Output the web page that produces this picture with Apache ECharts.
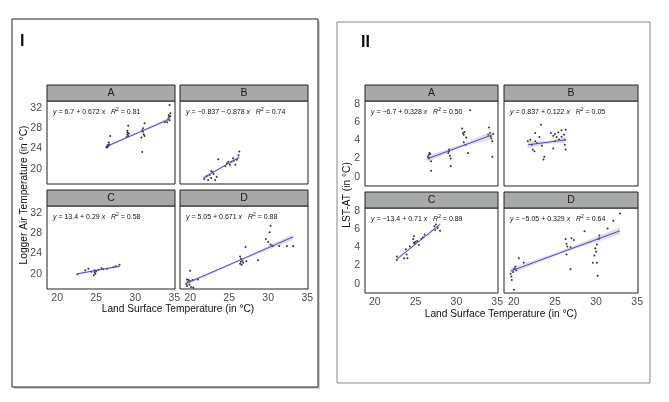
<!DOCTYPE html>
<html>
<head>
<meta charset="utf-8">
<script src="https://cdn.jsdelivr.net/npm/echarts@6/dist/echarts.min.js"></script>
<style>
  html, body { margin: 0; padding: 0; background: #fff; }
  #chart { width: 669px; height: 402px; }
</style>
</head>
<body>
<div id="chart"></div>
<script>
// facet names and tick values
const facetNames = ['A', 'B', 'C', 'D']
const xTicks = [20, 25, 30, 35]
const xMinor = [22.5, 27.5, 32.5]
const yTicksI = [20, 24, 28, 32]
const yMinorI = [18, 22, 26, 30]
const yTicksII = [0, 2, 4, 6, 8]
const yMinorII = [1, 3, 5, 7]

// equation labels [intercept part, slope part, R2]
const eqI = [
  ['6.7 + 0.672', '0.81'],
  ['\u22120.837 \u2212 0.878', '0.74'],
  ['13.4 + 0.29', '0.58'],
  ['5.05 + 0.671', '0.88']
]
const eqII = [
  ['\u22126.7 + 0.328', '0.50'],
  ['0.837 + 0.122', '0.05'],
  ['\u221213.4 + 0.71', '0.89'],
  ['\u22125.05 + 0.329', '0.64']
]

// panel I : Logger Air Temperature vs LST
const ptsIA = [[26.3, 24.3], [26.4, 24.5], [26.5, 24.4], [26.6, 24.6], [26.4, 24.2], [26.5, 24.7], [26.7, 24.8], [26.8, 26.5], [26.6, 25.2],
  [29.0, 26.8], [29.0, 27.2], [29.1, 26.5], [29.2, 27.0], [28.9, 26.3], [29.1, 28.5], [29.0, 27.5],
  [30.9, 27.6], [31.0, 28.0], [31.1, 26.8], [30.8, 26.2], [31.2, 29.0], [30.9, 23.3], [31.0, 27.3], [31.2, 26.5],
  [34.2, 29.8], [34.3, 30.2], [34.4, 29.6], [34.5, 30.4], [34.1, 29.2], [34.4, 32.6], [34.5, 31.0], [34.3, 30.6], [33.8, 29.2]]
const ptsIB = [[21.8, 18.0], [22.1, 18.5], [22.3, 17.8], [22.5, 18.8], [22.7, 18.2], [22.7, 19.5], [23.0, 19.0], [23.2, 17.8], [23.4, 18.4],
  [23.6, 21.9], [24.5, 20.5], [24.7, 21.1], [24.9, 21.4], [25.1, 20.8], [25.3, 21.4], [25.5, 22.1], [25.8, 20.8], [26.0, 21.8],
  [26.2, 22.7], [26.3, 23.4], [22.9, 19.3], [25.6, 21.6]]
const ptsIC = [[22.6, 19.9], [23.6, 20.7], [24.0, 21.0], [24.4, 20.4], [24.8, 20.7], [24.7, 19.7], [24.9, 20.0], [25.3, 20.8],
  [25.7, 21.1], [25.9, 20.9], [26.4, 21.0], [27.2, 21.3], [27.5, 21.5], [28.0, 21.8], [24.8, 20.3], [25.0, 20.5]]
const ptsID = [[19.5, 18.0], [19.6, 17.6], [19.7, 18.4], [19.8, 18.8], [19.9, 17.9], [20.0, 18.6], [20.1, 17.4], [20.3, 18.8], [19.6, 18.9],
  [20.0, 20.6], [21.0, 18.9], [20.4, 17.3],
  [26.4, 22.0], [26.5, 22.4], [26.6, 21.8], [26.5, 23.0], [26.7, 22.6], [26.4, 23.4], [26.8, 22.2], [27.1, 25.3], [27.2, 22.5], [28.7, 22.7],
  [30.3, 29.5], [30.2, 28.2], [29.7, 26.9], [30.0, 26.3], [30.5, 25.6], [31.4, 25.5], [32.4, 25.5], [33.2, 25.5], [30.3, 25.8], [30.6, 25.5]]

// panel II : LST - AT vs LST
const ptsIIA = [[26.5, 2.2], [26.6, 2.4], [26.7, 2.1], [26.8, 2.5], [26.6, 2.0], [26.7, 2.6], [26.9, 1.7], [26.9, 0.66],
  [29.0, 2.6], [29.1, 3.0], [29.2, 2.3], [29.3, 2.0], [29.1, 2.8], [29.3, 1.2],
  [30.7, 5.3], [30.8, 4.8], [30.9, 4.6], [31.0, 4.9], [30.9, 3.8], [31.1, 3.5], [31.2, 4.3], [31.4, 2.6], [31.7, 7.3],
  [33.9, 4.6], [34.0, 5.4], [34.1, 4.8], [34.2, 4.4], [34.3, 4.2], [34.4, 3.9], [34.4, 2.2], [34.5, 4.7]]
const ptsIIB = [[21.7, 3.9], [22.0, 4.05], [22.2, 3.5], [22.3, 3.0], [22.5, 2.8], [22.6, 4.8], [22.6, 3.9], [22.8, 3.7], [23.1, 4.35],
  [23.3, 5.7], [23.4, 3.4], [23.6, 1.9], [23.7, 2.2], [24.5, 4.8], [24.8, 4.5], [25.0, 4.7], [25.0, 3.9], [24.8, 3.1], [25.2, 4.35],
  [25.4, 4.85], [25.5, 4.1], [25.8, 5.1], [25.8, 4.4], [26.1, 4.6], [26.2, 4.05], [26.3, 5.15], [26.2, 3.5], [26.3, 3.0]]
const ptsIIC = [[22.7, 2.6], [22.7, 3.0], [23.6, 2.8], [23.9, 3.2], [24.0, 2.8], [23.8, 3.8], [24.3, 4.1], [24.7, 4.9], [24.8, 5.2],
  [24.8, 4.5], [25.0, 4.6], [25.2, 4.7], [25.4, 4.25], [25.7, 4.9], [25.9, 5.1], [26.1, 5.4], [27.3, 6.3], [27.5, 6.5],
  [27.7, 6.1], [28.0, 5.8], [27.4, 5.9], [24.9, 4.4]]
const ptsIID = [[19.6, 1.1], [19.7, 0.8], [19.75, 0.43], [20.0, -0.65], [20.0, 1.6], [20.2, 1.9], [20.6, 2.8], [21.2, 2.3], [20.3, 1.5],
  [19.9, 1.3], [20.1, 1.7],
  [26.3, 4.9], [26.4, 4.4], [26.5, 4.1], [26.4, 3.2], [27.0, 5.0], [27.3, 4.8], [26.9, 1.6], [26.9, 4.0], [28.6, 5.75],
  [29.8, 3.1], [30.0, 3.5], [29.9, 3.9], [30.1, 4.3], [30.3, 4.9], [30.4, 5.3], [29.6, 2.3], [30.1, 2.3], [30.2, 0.9],
  [31.4, 6.05], [32.1, 6.9], [32.9, 7.7], [30.4, 5.0]]

// fitted lines (endpoints)
const fitIA = [[26.3, 24.4], [34.5, 29.9]]
const fitIB = [[21.7, 18.2], [26.3, 22.3]]
const fitIC = [[22.6, 20.0], [28.0, 21.5]]
const fitID = [[19.5, 18.1], [33.2, 27.3]]
const fitIIA = [[26.5, 2.0], [34.4, 4.6]]
const fitIIB = [[21.7, 3.5], [26.3, 4.05]]
const fitIIC = [[22.7, 2.7], [28.0, 6.5]]
const fitIID = [[19.6, 1.4], [32.9, 5.8]]

// confidence bands [x, low, high]
const bandIA = [[26.3, 24.1, 24.7], [30.4, 27.0, 27.3], [34.5, 29.5, 30.3]]
const bandIB = [[21.7, 17.8, 18.6], [24.0, 20.1, 20.4], [26.3, 21.9, 22.7]]
const bandIC = [[22.6, 19.8, 20.2], [25.3, 20.7, 20.9], [28.0, 21.2, 21.8]]
const bandID = [[19.5, 17.8, 18.4], [26.4, 22.5, 22.8], [33.2, 26.7, 27.9]]
const bandIIA = [[26.5, 1.65, 2.35], [30.5, 3.2, 3.5], [34.4, 4.15, 5.05]]
const bandIIB = [[21.7, 3.1, 3.9], [24.0, 3.6, 3.9], [26.3, 3.75, 4.35]]
const bandIIC = [[22.7, 2.5, 2.9], [25.3, 4.5, 4.7], [28.0, 6.25, 6.75]]
const bandIID = [[19.6, 1.1, 1.7], [26.2, 3.45, 3.75], [32.9, 5.4, 6.2]]

const chart = echarts.init(document.getElementById('chart'))

const facets = [
  { g: [47, 101, 128, 83], xr: [18.7, 35.1], yr: [17.0, 33.4], yt: yTicksI, ym: yMinorI, pts: ptsIA, fit: fitIA, band: bandIA, eq: eqI[0], sx: false, sy: true },
  { g: [180, 101, 128, 83], xr: [18.7, 35.1], yr: [17.0, 33.4], yt: yTicksI, ym: yMinorI, pts: ptsIB, fit: fitIB, band: bandIB, eq: eqI[1], sx: false, sy: false },
  { g: [47, 206, 128, 83], xr: [18.7, 35.1], yr: [17.0, 33.4], yt: yTicksI, ym: yMinorI, pts: ptsIC, fit: fitIC, band: bandIC, eq: eqI[2], sx: true, sy: true },
  { g: [180, 206, 128, 83], xr: [18.7, 35.1], yr: [17.0, 33.4], yt: yTicksI, ym: yMinorI, pts: ptsID, fit: fitID, band: bandID, eq: eqI[3], sx: true, sy: false },
  { g: [365, 101, 133, 85], xr: [18.8, 35.1], yr: [-1.0, 8.3], yt: yTicksII, ym: yMinorII, pts: ptsIIA, fit: fitIIA, band: bandIIA, eq: eqII[0], sx: false, sy: true },
  { g: [504, 101, 134, 85], xr: [18.8, 35.1], yr: [-1.0, 8.3], yt: yTicksII, ym: yMinorII, pts: ptsIIB, fit: fitIIB, band: bandIIB, eq: eqII[1], sx: false, sy: false },
  { g: [365, 208, 133, 85], xr: [18.8, 35.1], yr: [-1.0, 8.3], yt: yTicksII, ym: yMinorII, pts: ptsIIC, fit: fitIIC, band: bandIIC, eq: eqII[2], sx: true, sy: true },
  { g: [504, 208, 134, 85], xr: [18.8, 35.1], yr: [-1.0, 8.3], yt: yTicksII, ym: yMinorII, pts: ptsIID, fit: fitIID, band: bandIID, eq: eqII[3], sx: true, sy: false }
]

const FONT = 'Liberation Sans, Arial, sans-serif'
const grids = []
const xAxes = []
const yAxes = []
const series = []
const graphics = []

// outer frames and panel letters
graphics.push(
  { type: 'rect', shape: { x: 14, y: 21, width: 306, height: 368 }, style: { fill: '#d0d0d0' }, z: 0 },
  { type: 'rect', shape: { x: 12, y: 19, width: 306, height: 368 }, style: { fill: '#fff', stroke: '#222', lineWidth: 1 }, z: 0 },
  { type: 'rect', shape: { x: 337, y: 22, width: 313, height: 361 }, style: { fill: '#fff', stroke: '#888', lineWidth: 1 }, z: 0 },
  { type: 'text', x: 20, y: 42, style: { text: 'I', font: 'bold 16px ' + FONT, fill: '#111', textVerticalAlign: 'middle' }, z: 1 },
  { type: 'text', x: 361, y: 43, style: { text: 'II', font: 'bold 16px ' + FONT, fill: '#111', textVerticalAlign: 'middle' }, z: 1 }
)

facets.forEach(function (f, i) {
  const [l, t, w, h] = f.g
  grids.push({ left: l, top: t, width: w, height: h, show: true, borderColor: '#222', borderWidth: 1, backgroundColor: '#fff', z: 2 })
  xAxes.push({
    type: 'value', gridIndex: i, min: f.xr[0], max: f.xr[1],
    axisLine: { show: false },
    axisTick: { show: false, customValues: xTicks.concat(xMinor) },
    axisLabel: { show: f.sx, customValues: xTicks, color: '#4d4d4d', fontSize: 10.5, fontFamily: FONT, margin: 4 },
    splitLine: { show: true, lineStyle: { color: '#efefef', width: 0.7 } }
  })
  yAxes.push({
    type: 'value', gridIndex: i, min: f.yr[0], max: f.yr[1],
    axisLine: { show: false },
    axisTick: { show: false, customValues: f.yt.concat(f.ym) },
    axisLabel: { show: f.sy, customValues: f.yt, color: '#4d4d4d', fontSize: 10.5, fontFamily: FONT, margin: 5 },
    splitLine: { show: true, lineStyle: { color: '#efefef', width: 0.7 } }
  })
  series.push({
    type: 'scatter', xAxisIndex: i, yAxisIndex: i, data: f.pts, symbolSize: 2,
    itemStyle: { color: '#000' }, silent: true, z: 3
  })
  const band = f.band
  series.push({
    type: 'custom', xAxisIndex: i, yAxisIndex: i, clip: true, silent: true, z: 4,
    data: [[band[0][0], band[0][1]]],
    renderItem: function (params, api) {
      const pts = band.map(function (b) { return api.coord([b[0], b[2]]) })
        .concat(band.slice().reverse().map(function (b) { return api.coord([b[0], b[1]]) }))
      return { type: 'polygon', shape: { points: pts }, style: { fill: 'rgba(150,150,150,0.3)' } }
    }
  })
  series.push({
    type: 'line', xAxisIndex: i, yAxisIndex: i, data: f.fit, showSymbol: false, silent: true, z: 5,
    lineStyle: { color: '#4a4ac4', width: 1 }
  })
  // strip
  graphics.push(
    { type: 'rect', shape: { x: l, y: t - 16, width: w, height: 16 }, style: { fill: '#a8aaaa', stroke: '#222', lineWidth: 1 }, z: 5 },
    { type: 'text', x: l + w / 2, y: t - 8, style: { text: facetNames[i % 4], font: '10.5px ' + FONT, fill: '#1a1a1a', textAlign: 'center', textVerticalAlign: 'middle' }, z: 6 },
    {
      type: 'text', x: l + 6, y: t + 11, z: 6,
      style: {
        text: '{i|y} = ' + f.eq[0] + ' {i|x}   {i|R}{s|2} = ' + f.eq[1],
        font: '7px ' + FONT, fill: '#111', textVerticalAlign: 'middle',
        rich: {
          i: { fontStyle: 'italic', fontSize: 7, fontFamily: FONT },
          s: { fontSize: 5, fontFamily: FONT, padding: [0, 0, 4, 0] }
        }
      }
    }
  )
})

// axis titles
graphics.push(
  { type: 'text', x: 178, y: 309, style: { text: 'Land Surface Temperature (in \u00b0C)', font: '10.2px ' + FONT, fill: '#111', textAlign: 'center', textVerticalAlign: 'middle' }, z: 6 },
  { type: 'text', x: 501, y: 314, style: { text: 'Land Surface Temperature (in \u00b0C)', font: '10.2px ' + FONT, fill: '#111', textAlign: 'center', textVerticalAlign: 'middle' }, z: 6 },
  { type: 'text', x: 24, y: 195, rotation: Math.PI / 2, style: { text: 'Logger Air Temperature (in \u00b0C)', font: '10.2px ' + FONT, fill: '#111', textAlign: 'center', textVerticalAlign: 'middle' }, z: 6 },
  { type: 'text', x: 347, y: 195, rotation: Math.PI / 2, style: { text: 'LST-AT (in \u00b0C)', font: '10.2px ' + FONT, fill: '#111', textAlign: 'center', textVerticalAlign: 'middle' }, z: 6 }
)

chart.setOption({
  animation: false,
  backgroundColor: '#fff',
  grid: grids,
  xAxis: xAxes,
  yAxis: yAxes,
  series: series,
  graphic: graphics
})
</script>
</body>
</html>
